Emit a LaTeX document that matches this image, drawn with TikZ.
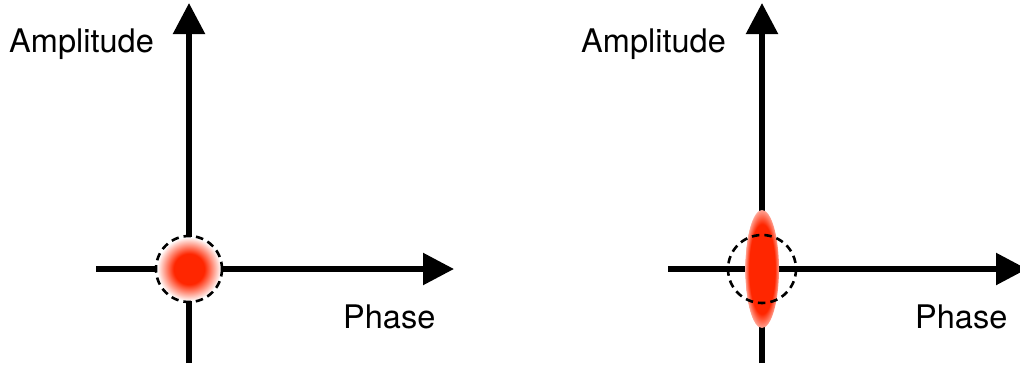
\documentclass[tikz,border=0pt]{standalone}
\usepackage{fontspec}
\setmainfont{TeX Gyre Heros}
\usetikzlibrary{arrows.meta}
\definecolor{blobred}{RGB}{255,38,0}
% soft round spot: solid core, fading to white at the rim
\pgfdeclareradialshading{spot}{\pgfpoint{0bp}{0bp}}{color(0bp)=(blobred); color(12bp)=(blobred); color(25bp)=(white); color(50bp)=(white)}
% squeezed spot: larger solid core, shorter fade
\pgfdeclareradialshading{squeezed}{\pgfpoint{0bp}{0bp}}{color(0bp)=(blobred); color(19bp)=(blobred); color(25bp)=(white!30!blobred!60); color(26bp)=(white); color(50bp)=(white)}
\tikzset{
  axis/.style={line width=5.5pt, -{Triangle[length=31pt,width=31pt]}},
  noise/.style={draw=black, line width=2.6pt, dash pattern=on 7.5pt off 5pt},
  lbl/.style={font=\fontsize{32.5}{38}\selectfont, inner sep=0pt},
}
\begin{document}
\begin{tikzpicture}[x=1pt, y=-1pt]
  \useasboundingbox (0,0) rectangle (1020,367);
  \clip (0,0) rectangle (1020,367);

  % ---- left: coherent state ----
  \coordinate (o1) at (189,269);
  \coordinate (xl1) at (96,269);
  \coordinate (xr1) at (454,269);
  \coordinate (yb1) at (189,363);
  \coordinate (yt1) at (189,3);
  \draw[axis] (xl1) -- (xr1);
  \draw[axis] (yb1) -- (yt1);
  \shade[shading=spot] (o1) circle[radius=32];
  \draw[noise] (o1) circle[radius=33];
  \node[lbl, anchor=base west] (amp1) at (9,52) {Amplitude};
  \node[lbl, anchor=base west] (ph1) at (343,328) {Phase};

  % ---- right: amplitude-squeezed state ----
  \coordinate (o2) at (762,269);
  \coordinate (xl2) at (668,269);
  \coordinate (xr2) at (1027,269);
  \coordinate (yb2) at (762,363);
  \coordinate (yt2) at (762,3);
  \draw[axis] (xl2) -- (xr2);
  \draw[axis] (yb2) -- (yt2);
  \shade[shading=squeezed] (o2) ellipse[x radius=17, y radius=59];
  \draw[noise] (o2) circle[radius=34];
  \node[lbl, anchor=base west] (amp2) at (581,52) {Amplitude};
  \node[lbl, anchor=base west] (ph2) at (915,328) {Phase};
\end{tikzpicture}
\end{document}
